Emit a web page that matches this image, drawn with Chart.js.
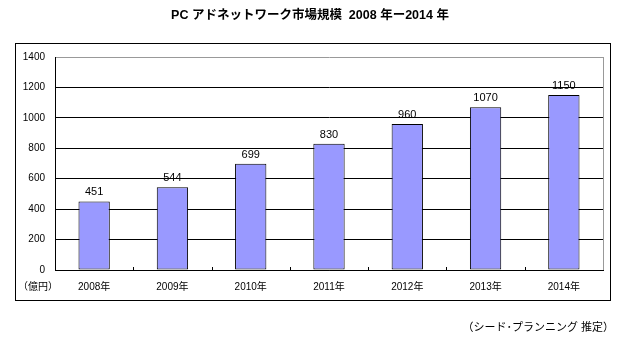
<!DOCTYPE html>
<html>
<head>
<meta charset="utf-8">
<script src="https://cdn.jsdelivr.net/npm/chart.js@4"></script>
<style>
html,body{margin:0;padding:0;background:#fff;}
#wrap{position:relative;width:628px;height:346px;}
</style>
</head>
<body>
<div id="wrap"><canvas id="c" width="628" height="346"></canvas></div>
<script>
const categories = ["2008年","2009年","2010年","2011年","2012年","2013年","2014年"];
const marketSize = [451, 544, 699, 830, 960, 1070, 1150];
const yTicks = [0, 200, 400, 600, 800, 1000, 1200, 1400];
const titleText = "PC アドネットワーク市場規模  2008 年ー2014 年";
const unitText = "（億円）";
const sourceText = "（シード･プランニング 推定）";

const FONT = "'Liberation Sans', 'Noto Sans CJK JP', sans-serif";

const decor = {
  id: 'decor',
  beforeDraw(chart) {
    const ctx = chart.ctx;
    ctx.save();
    ctx.fillStyle = '#fff';
    ctx.fillRect(0, 0, chart.width, chart.height);
    ctx.restore();
  },
  afterDraw(chart) {
    const ctx = chart.ctx;
    const area = chart.chartArea;
    const xs = chart.scales.x;
    ctx.save();
    // outer frame
    ctx.strokeStyle = '#000';
    ctx.lineWidth = 1;
    ctx.strokeRect(15.5, 43.5, 595, 257);
    // right plot border (grey)
    ctx.strokeStyle = '#999';
    ctx.beginPath();
    ctx.moveTo(Math.round(area.right) + 0.5, area.top);
    ctx.lineTo(Math.round(area.right) + 0.5, area.bottom);
    ctx.stroke();
    // category separator tick marks (inside, upward)
    ctx.strokeStyle = '#000';
    ctx.beginPath();
    for (let i = 1; i < categories.length; i++) {
      const x = Math.round((xs.getPixelForTick(i - 1) + xs.getPixelForTick(i)) / 2) + 0.5;
      ctx.moveTo(x, area.bottom);
      ctx.lineTo(x, area.bottom - 3);
    }
    ctx.stroke();
    // title
    ctx.fillStyle = '#000';
    ctx.font = "bold 12.5px " + FONT;
    ctx.textAlign = 'center';
    ctx.textBaseline = 'middle';
    ctx.fillText(titleText, 310, 16);
    // unit
    ctx.font = "10px " + FONT;
    ctx.textAlign = 'left';
    ctx.fillText(unitText, 18, 287);
    // source
    ctx.font = "11px " + FONT;
    ctx.textAlign = 'right';
    ctx.fillText(sourceText, 614, 328);
    // data labels
    const meta = chart.getDatasetMeta(0);
    ctx.font = "11px " + FONT;
    ctx.textAlign = 'center';
    ctx.textBaseline = 'alphabetic';
    meta.data.forEach((bar, i) => {
      ctx.fillText(String(marketSize[i]), bar.x, bar.y - 6);
    });
    ctx.restore();
  }
};

new Chart(document.getElementById('c'), {
  type: 'bar',
  data: {
    labels: categories,
    datasets: [{
      data: marketSize,
      backgroundColor: '#9999ff',
      borderColor: '#000',
      borderWidth: 1,
      borderSkipped: false,
      barPercentage: 0.4,
      categoryPercentage: 1.0
    }]
  },
  options: {
    responsive: false,
    animation: false,
    devicePixelRatio: 1,
    layout: { padding: { left: 0, top: 57, right: 25, bottom: 46 } },
    plugins: { legend: { display: false }, tooltip: { enabled: false } },
    scales: {
      x: {
        afterFit(scale) { scale.height = 30; },
        grid: { display: false, drawTicks: false },
        border: { display: true, color: '#000', width: 1 },
        ticks: { color: '#000', font: { size: 10, family: FONT }, padding: 11, maxRotation: 0 }
      },
      y: {
        min: 0, max: 1400,
        afterFit(scale) { scale.width = 55; },
        afterBuildTicks(scale) { scale.ticks = yTicks.map(v => ({ value: v })); },
        grid: {
          drawTicks: false,
          color: ctx => (ctx.tick && ctx.tick.value === 1400) ? '#999' : '#000',
          lineWidth: 1
        },
        border: { display: true, color: '#000', width: 1 },
        ticks: {
          color: '#000', font: { size: 10, family: FONT }, padding: 10,
          callback: v => String(v)
        }
      }
    }
  },
  plugins: [decor]
});
</script>
</body>
</html>
